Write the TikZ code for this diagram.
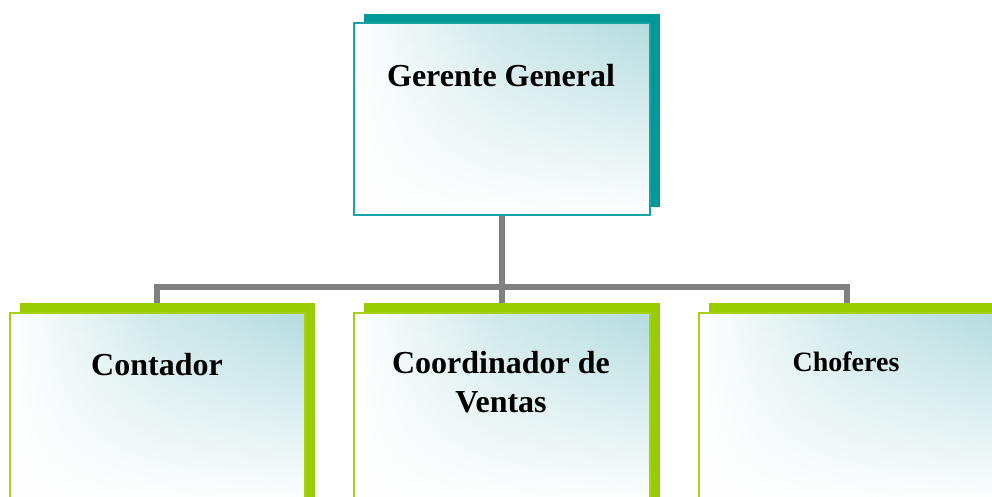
\documentclass[tikz,border=0pt]{standalone}
\usepackage{fontspec}
\setmainfont{Liberation Serif}
\usetikzlibrary{fadings}
\definecolor{tealS}{HTML}{009999}
\definecolor{tealB}{HTML}{1AA3A3}
\definecolor{greenS}{HTML}{99CC00}
\definecolor{greenB}{HTML}{A6D11A}
\definecolor{tealL}{HTML}{B5DCDF}
\definecolor{connG}{HTML}{808080}
\begin{document}
\begin{tikzpicture}[x=1pt,y=-1pt,
  box/.style={draw=#1, line width=1.8pt, minimum width=296pt, inner sep=0pt, anchor=north west,
    path picture={
      \shade[left color=white,right color=tealL,middle color=tealL!65]
        (path picture bounding box.south west) rectangle (path picture bounding box.north east);
      \fill[white,path fading=north]
        (path picture bounding box.south west) rectangle (path picture bounding box.north east);
    }},
  topbox/.style={box=tealB, minimum height=192pt},
  subbox/.style={box=greenB, minimum height=190pt},
  conn/.style={draw=connG, line width=6pt, line join=miter},
  lbl/.style={font=\bfseries\fontsize{32}{39}\selectfont, anchor=base, align=center, inner sep=0pt},
]
\useasboundingbox (0,0) rectangle (992,497);
\clip (0,0) rectangle (992,497);
% shadows
\fill[tealS]  (364,14) rectangle (660,207);
\fill[greenS] (20,303) rectangle (315,500);
\fill[greenS] (364,303) rectangle (660,500);
\fill[greenS] (709,303) rectangle (1006,500);
% boxes
\node[topbox] (gg) at (353,22) {};
\node[subbox, minimum width=295pt] (ca) at (9,312) {};
\node[subbox] (cv) at (353,312) {};
\node[subbox] (ch) at (698,312) {};
% connectors
\draw[conn] (gg.south) -- ([yshift=9pt]cv.north);
\draw[conn] ([yshift=9pt]ca.north) -- ([yshift=25pt]ca.north) -- ([yshift=25pt]ch.north) -- ([yshift=9pt]ch.north);
% labels
\node[lbl] (ggt) at (501,87) {Gerente General};
\node[lbl] (cat) at (157,375) {Contador};
\node[lbl] (cvt) at (501,412) {Coordinador de\\Ventas};
\node[lbl, font=\bfseries\fontsize{28}{34}\selectfont] (cht) at (846,371) {Choferes};
\end{tikzpicture}
\end{document}
